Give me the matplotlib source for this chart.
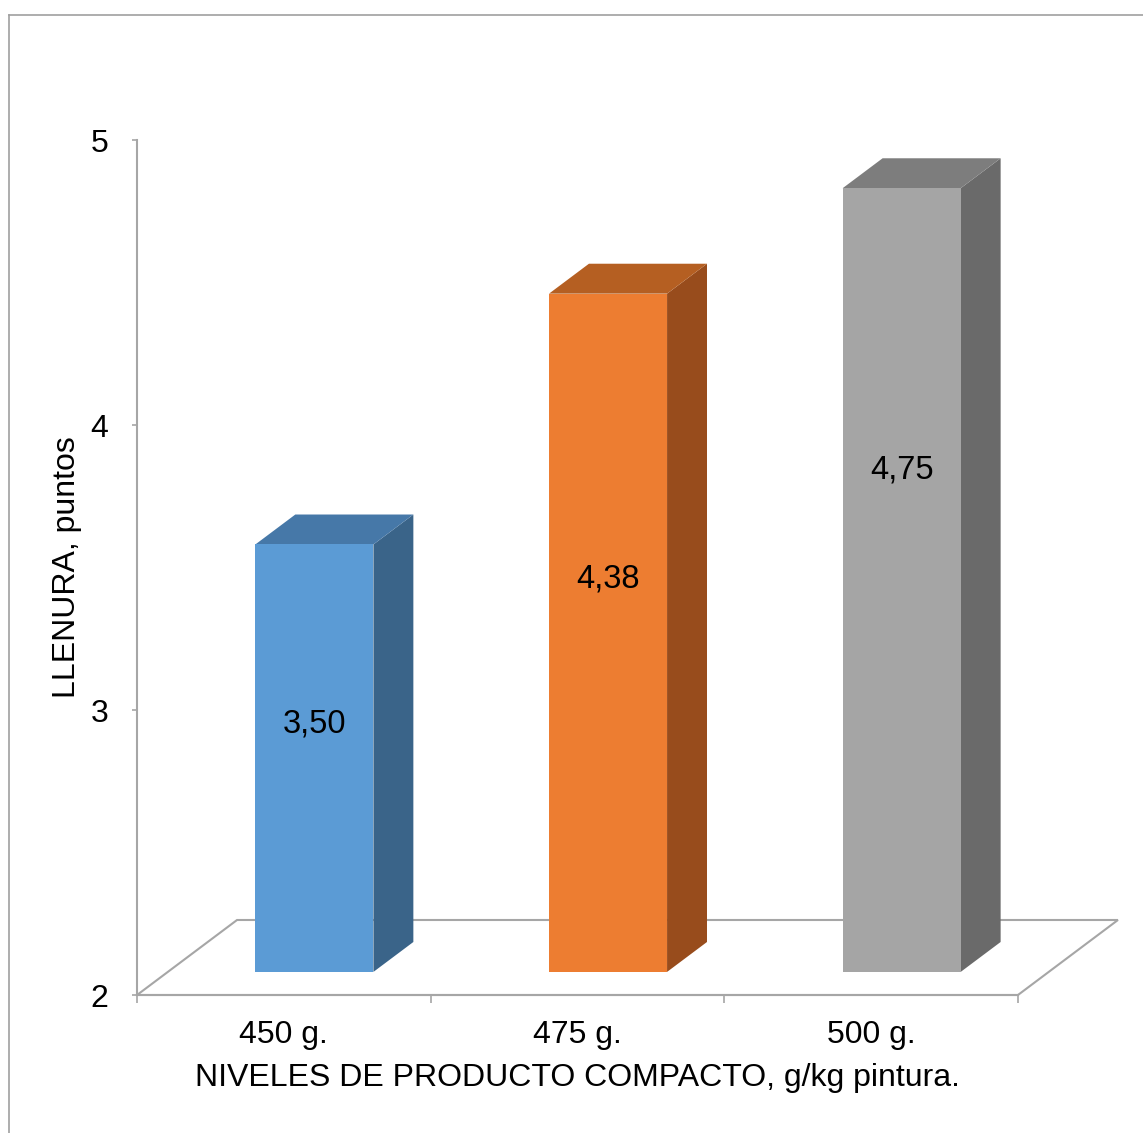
import matplotlib.pyplot as plt
from matplotlib.lines import Line2D

# datos
niveles = ['450 g.', '475 g.', '500 g.']
llenura = [3.50, 4.38, 4.75]
etiquetas = ['3,50', '4,38', '4,75']

# colores de cada barra: cara frontal, techo, lado
cara = ['#5B9BD5', '#ED7D31', '#A5A5A5']
techo = ['#4678A8', '#B55F22', '#7D7D7D']
lado = ['#3A6489', '#984C1C', '#6A6A6A']
pos_etiqueta = [0.58, 0.58, 0.64]

plt.rcParams['font.family'] = ['Liberation Sans', 'DejaVu Sans']
gris = '#A6A6A6'

fig = plt.figure(figsize=(11.43, 11.33), dpi=100)
ax = fig.add_axes([0.1199, 0.1218, 0.7707, 0.7546])
ax.set_xlim(0, 3)
ax.set_ylim(2, 5)

# profundidad del piso y de las barras (en unidades de datos)
px, py = 0.3405, 0.2632
fx, fy = 0.104, 0.081
bx, by = 0.136, 0.105
ancho = 0.402

piso = [(0, 2), (px, 2 + py), (3 + px, 2 + py), (3, 2)]
ax.fill(*zip(*piso), facecolor='white', edgecolor=gris, lw=1.5,
        clip_on=False, zorder=1)

for i, v in enumerate(llenura):
    x0 = i + 0.5 - ancho / 2 + fx
    x1 = x0 + ancho
    y0 = 2 + fy
    yt = v + fy
    frente = [(x0, y0), (x1, y0), (x1, yt), (x0, yt)]
    arriba = [(x0, yt), (x1, yt), (x1 + bx, yt + by), (x0 + bx, yt + by)]
    costado = [(x1, y0), (x1 + bx, y0 + by), (x1 + bx, yt + by), (x1, yt)]
    ax.fill(*zip(*costado), color=lado[i], lw=0, clip_on=False, zorder=3)
    ax.fill(*zip(*arriba), color=techo[i], lw=0, clip_on=False, zorder=3)
    ax.fill(*zip(*frente), color=cara[i], lw=0, clip_on=False, zorder=4)
    ax.text(x0 + ancho / 2, y0 + pos_etiqueta[i] * (v - 2), etiquetas[i],
            ha='center', va='center', fontsize=23.5, color='black', zorder=5)

for s in ['top', 'right']:
    ax.spines[s].set_visible(False)
for s in ['left', 'bottom']:
    ax.spines[s].set_color(gris)
    ax.spines[s].set_linewidth(1.5)
    ax.spines[s].set_zorder(2)

ax.set_yticks([2, 3, 4, 5])
ax.set_yticklabels(['2', '3', '4', '5'])
ax.tick_params(axis='y', direction='out', length=3.6, width=1.2, color=gris,
               labelsize=23, pad=17)

ax.set_xticks([0, 1, 2, 3])
ax.set_xticklabels([])
ax.set_xticks([0.5, 1.5, 2.5], minor=True)
ax.set_xticklabels(niveles, minor=True)
ax.tick_params(axis='x', which='major', direction='out', length=5.8,
               width=1.2, color=gris)
ax.tick_params(axis='x', which='minor', length=0, labelsize=23, pad=18)

ax.set_xlabel('NIVELES DE PRODUCTO COMPACTO, g/kg pintura.', fontsize=23,
              labelpad=9)
ax.set_ylabel('LLENURA, puntos', fontsize=23, labelpad=6)

# borde exterior del grafico
fig.add_artist(Line2D([8.5 / 1143, 8.5 / 1143], [0, 1 - 15 / 1133],
                      color='#A0A0A0', lw=1.2))
fig.add_artist(Line2D([8.5 / 1143, 1], [1 - 15 / 1133, 1 - 15 / 1133],
                      color='#A0A0A0', lw=1.2))

fig.savefig('out.png', dpi=100)
